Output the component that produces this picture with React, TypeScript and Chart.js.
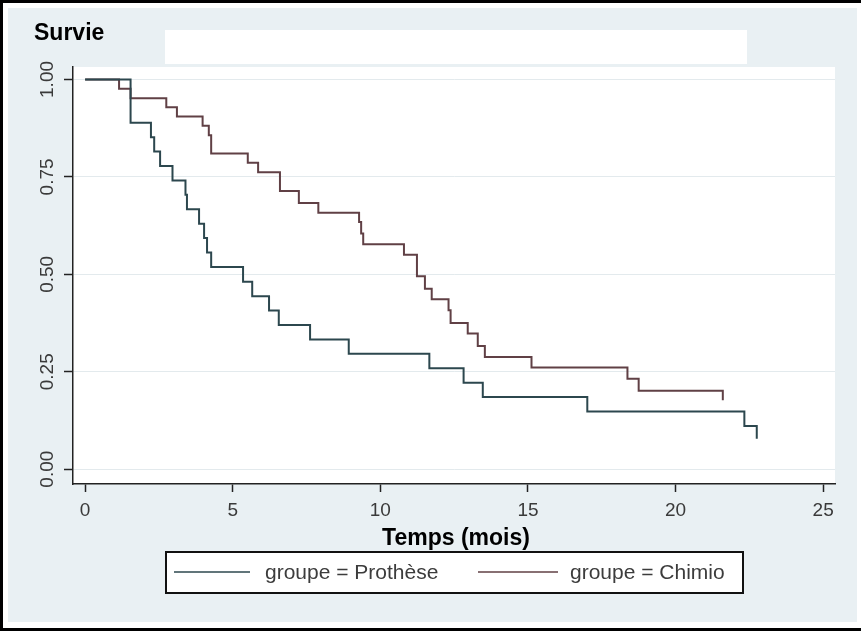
import React, { useEffect, useRef } from "react";
import { Chart, registerables } from "chart.js";

Chart.register(...registerables);

// ---- data ----
const seriesLabels = ["groupe = Prothèse", "groupe = Chimio"];
const seriesColors = ["#2c474e", "#604045"];

const protheseTimes = [0, 1.54, 2.23, 2.34, 2.54, 2.96, 3.40, 3.45, 3.86, 4.03, 4.13, 4.27, 5.35, 5.66, 6.23, 6.56, 7.62, 8.93, 11.66, 12.82, 13.47, 17.01, 22.33, 22.75];
const protheseSurvival = [1, 0.889, 0.852, 0.815, 0.778, 0.741, 0.704, 0.667, 0.63, 0.593, 0.556, 0.519, 0.481, 0.444, 0.407, 0.37, 0.333, 0.296, 0.259, 0.222, 0.185, 0.148, 0.111, 0.078];

const chimioTimes = [0, 1.15, 1.54, 2.75, 3.11, 3.98, 4.19, 4.27, 5.51, 5.86, 6.6, 7.24, 7.9, 9.28, 9.35, 9.42, 10.8, 11.24, 11.51, 11.74, 12.31, 12.38, 12.96, 13.3, 13.54, 15.12, 18.37, 18.75, 21.6];
const chimioSurvival = [1, 0.976, 0.952, 0.929, 0.905, 0.881, 0.857, 0.81, 0.786, 0.762, 0.714, 0.683, 0.658, 0.634, 0.605, 0.577, 0.55, 0.495, 0.463, 0.436, 0.408, 0.375, 0.348, 0.316, 0.288, 0.261, 0.232, 0.201, 0.177];

const xTickValues = [0, 5, 10, 15, 20, 25];
const yTickValues = [0, 0.25, 0.5, 0.75, 1];
const xAxisTitle = "Temps (mois)";
const yAxisTitle = "Survie";

const FONT = '"Liberation Sans", Arial, sans-serif';

const framePlugin = {
  id: "stataFrame",
  beforeDraw(chart: any) {
    const { ctx, chartArea } = chart;
    const W = chart.width;
    const H = chart.height;
    ctx.save();
    ctx.fillStyle = "#ffffff";
    ctx.fillRect(0, 0, W, H);
    // outer light graph region
    ctx.fillStyle = "#e9f0f3";
    ctx.fillRect(8, 8, 849, 614);
    // empty title band
    ctx.fillStyle = "#ffffff";
    ctx.fillRect(165, 30, 582, 34);
    // plot region
    ctx.fillRect(chartArea.left, chartArea.top, chartArea.right - chartArea.left, chartArea.bottom - chartArea.top);
    // black frame (left, top, bottom)
    ctx.fillStyle = "#000000";
    ctx.fillRect(0, 0, W, 3);
    ctx.fillRect(0, 0, 3, H);
    ctx.fillRect(0, 628, W, 3);
    ctx.restore();
  },
  afterDraw(chart: any) {
    const { ctx } = chart;
    ctx.save();
    // y title
    ctx.fillStyle = "#000000";
    ctx.font = `bold 23px ${FONT}`;
    ctx.textAlign = "left";
    ctx.textBaseline = "alphabetic";
    ctx.fillText(yAxisTitle, 34, 40);
    // x title
    ctx.textAlign = "center";
    ctx.fillText(xAxisTitle, 456, 545);
    // legend box
    ctx.fillStyle = "#ffffff";
    ctx.fillRect(166, 552, 577, 41);
    ctx.strokeStyle = "#111111";
    ctx.lineWidth = 2;
    ctx.strokeRect(166, 552, 577, 41);
    const entries = [
      { x1: 174, x2: 250, tx: 265 },
      { x1: 478, x2: 558, tx: 570 },
    ];
    chart.data.datasets.forEach((ds: any, i: number) => {
      const e = entries[i];
      ctx.strokeStyle = ds.borderColor;
      ctx.lineWidth = 1.5;
      ctx.beginPath();
      ctx.moveTo(e.x1, 572);
      ctx.lineTo(e.x2, 572);
      ctx.stroke();
      ctx.fillStyle = "#3c3c3c";
      ctx.font = `21px ${FONT}`;
      ctx.textAlign = "left";
      ctx.textBaseline = "middle";
      ctx.fillText(ds.label, e.tx, 573);
    });
    ctx.restore();
  },
};

export default function App() {
  const ref = useRef<HTMLCanvasElement | null>(null);
  useEffect(() => {
    document.body.style.margin = "0";
    if (!ref.current) return;
    const toPts = (ts: number[], ss: number[]) => ts.map((t, i) => ({ x: t, y: ss[i] }));
    const chart = new Chart(ref.current, {
      type: "line",
      data: {
        datasets: [
          {
            label: seriesLabels[0],
            data: toPts(protheseTimes, protheseSurvival),
            borderColor: seriesColors[0],
            borderWidth: 2,
            pointRadius: 0,
            stepped: true,
            fill: false,
          },
          {
            label: seriesLabels[1],
            data: toPts(chimioTimes, chimioSurvival),
            borderColor: seriesColors[1],
            borderWidth: 2,
            pointRadius: 0,
            stepped: true,
            fill: false,
          },
        ],
      },
      options: {
        animation: false,
        responsive: false,
        devicePixelRatio: 1,
        layout: { padding: { left: 0, top: 67, right: 26, bottom: 107 } },
        plugins: { legend: { display: false }, tooltip: { enabled: false }, title: { display: false } },
        scales: {
          x: {
            type: "linear",
            min: -0.41,
            max: 25.4,
            afterBuildTicks: (s: any) => {
              s.ticks = xTickValues.map((v) => ({ value: v }));
            },
            afterFit: (s: any) => {
              s.height = 40;
            },
            ticks: {
              font: { size: 19, family: FONT },
              color: "#3a3a3a",
              padding: 7,
              maxRotation: 0,
              autoSkip: false,
            },
            grid: { drawOnChartArea: false, tickLength: 8, tickColor: "#222222", tickWidth: 1.5 },
            border: { color: "#222222", width: 1.5 },
          },
          y: {
            type: "linear",
            min: -0.038,
            max: 1.032,
            afterBuildTicks: (s: any) => {
              s.ticks = yTickValues.map((v) => ({ value: v }));
            },
            afterFit: (s: any) => {
              s.width = 73;
            },
            ticks: {
              font: { size: 19, family: FONT },
              color: "#3a3a3a",
              minRotation: 90,
              maxRotation: 90,
              crossAlign: "center",
              padding: -2,
              autoSkip: false,
              callback: (v: any) => Number(v).toFixed(2),
            },
            grid: { color: "#e3eaed", lineWidth: 1, tickLength: 9, tickColor: "#222222", tickWidth: 1.5 },
            border: { color: "#222222", width: 1.5 },
          },
        },
      },
      plugins: [framePlugin],
    } as any);
    return () => chart.destroy();
  }, []);
  return <canvas ref={ref} width={861} height={631} style={{ display: "block" }} />;
}
